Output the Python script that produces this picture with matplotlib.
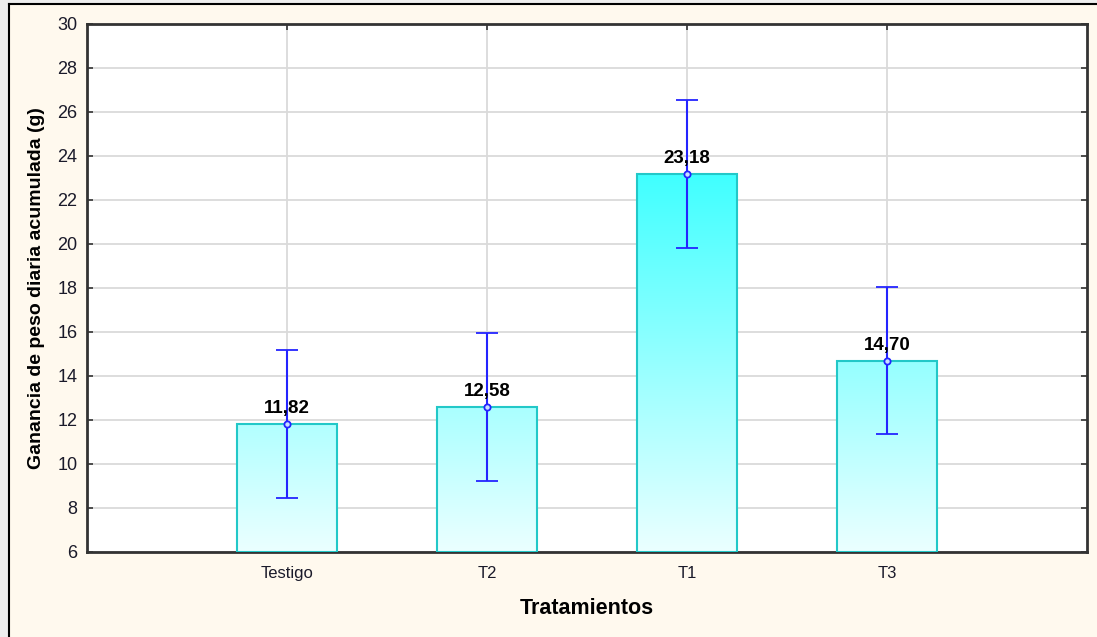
import numpy as np
import matplotlib.pyplot as plt
from matplotlib.colors import LinearSegmentedColormap
from matplotlib.patches import Rectangle

# Data
tratamientos = ['Testigo', 'T2', 'T1', 'T3']
medias = [11.82, 12.58, 23.18, 14.70]
errores = [3.36, 3.36, 3.36, 3.35]

# Style
plt.rcParams['font.family'] = ['Liberation Sans', 'DejaVu Sans']
fondo = '#FFF9EE'
borde_barra = '#22C8C8'
azul = '#2424FF'

fig = plt.figure(figsize=(10.97, 6.37), dpi=100, facecolor='#EEEEEE')
# cream panel with black frame on left/top
fig.patches.append(Rectangle((8.5 / 1097, 0), 1, 1 - 3.5 / 637, transform=fig.transFigure,
                             facecolor=fondo, edgecolor='none', zorder=-2))
fig.add_artist(plt.Line2D([8.5 / 1097, 8.5 / 1097], [0, 1 - 3.5 / 637], transform=fig.transFigure,
                          color='black', lw=1.5, zorder=-1))
fig.add_artist(plt.Line2D([8.5 / 1097, 1], [1 - 3.5 / 637, 1 - 3.5 / 637], transform=fig.transFigure,
                          color='black', lw=1.5, zorder=-1))

ax = fig.add_axes([87 / 1097, 1 - 552 / 637, 1000 / 1097, 528 / 637])
ax.set_facecolor('white')
ax.set_xlim(0, 5)
ax.set_ylim(6, 30)

x = np.arange(1, len(tratamientos) + 1)
cmap = LinearSegmentedColormap.from_list('cian', ['#EBFFFF', '#40FFFF'])
grad = np.linspace(0, 1, 256).reshape(-1, 1)
ancho = 0.5
for xi, m in zip(x, medias):
    rect = Rectangle((xi - ancho / 2, 6), ancho, m - 6, facecolor='none',
                     edgecolor=borde_barra, lw=1.5, zorder=3)
    ax.add_patch(rect)
    im = ax.imshow(grad, cmap=cmap, origin='lower', aspect='auto',
                   extent=[xi - ancho / 2, xi + ancho / 2, 6, 23.2], vmin=0, vmax=1, zorder=2)
    im.set_clip_path(rect)

ax.errorbar(x, medias, yerr=errores, fmt='o', color=azul, ecolor=azul, elinewidth=1.5,
            capsize=7.8, capthick=1.5, markersize=4.5, markerfacecolor='#C8E0FF',
            markeredgecolor=azul, markeredgewidth=1.3, zorder=5)

for xi, m in zip(x, medias):
    ax.annotate(f'{m:.2f}'.replace('.', ','), (xi, m), xytext=(0, 5), textcoords='offset points',
                ha='center', va='bottom', fontsize=13.5, fontweight='bold', color='black', zorder=6)

ax.set_xticks(x)
ax.set_xticklabels(tratamientos, fontsize=12)
ax.set_yticks(np.arange(6, 31, 2))
ax.tick_params(axis='y', labelsize=13, pad=7)
ax.tick_params(axis='x', pad=10)
ax.tick_params(direction='in', length=4, width=1.2, top=True, right=True, color='#333333',
               labelcolor='#1A1A2A')
ax.grid(True, color='#DADADA', lw=1.3, zorder=0)
ax.set_axisbelow(True)
for s in ax.spines.values():
    s.set_linewidth(2)
    s.set_color('#333333')

ax.set_xlabel('Tratamientos', fontsize=15.5, fontweight='bold', labelpad=12)
ax.set_ylabel('Ganancia de peso diaria acumulada (g)', fontsize=14, fontweight='bold', labelpad=9)

fig.savefig('out.png', dpi=100, facecolor=fig.get_facecolor())
